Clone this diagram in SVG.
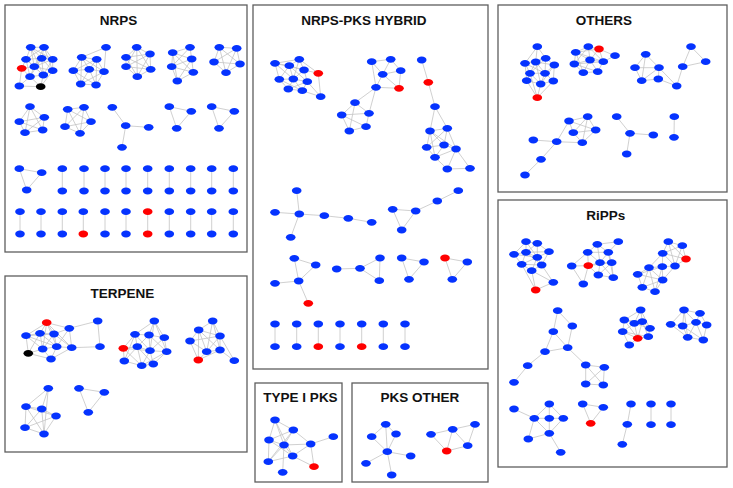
<svg xmlns="http://www.w3.org/2000/svg" xmlns:xlink="http://www.w3.org/1999/xlink" width="733" height="488" viewBox="0 0 733 488">
<defs>
<style>
.frame{fill:none;stroke:#5e5e5e;stroke-width:1.3}
.title{font-family:"Liberation Sans",Arial,sans-serif;font-weight:bold;font-size:13.5px;fill:#111;text-anchor:middle}
.edges path{fill:none;stroke:#c4c4c4;stroke-width:0.8}
</style>
<ellipse id="b" rx="4.8" ry="3.4" fill="#0533ff"/>
<ellipse id="r" rx="4.8" ry="3.4" fill="#ff0000"/>
<ellipse id="k" rx="4.8" ry="3.4" fill="#000000"/>
</defs>
<rect width="733" height="488" fill="#ffffff"/>

<g id="connectors" class="edges">
<!-- NRPS -->
<path d="M30.7,47.3L44,47.3M30.7,47.3L26,59.3M30.7,47.3L41.7,58.3M30.7,47.3L52.7,59.3M30.7,47.3L34.3,66.7M30.7,47.3L43.3,75M44,47.3L26,59.3M44,47.3L41.7,58.3M44,47.3L52.7,59.3M44,47.3L52.7,70.7M44,47.3L34.3,66.7M26,59.3L41.7,58.3M26,59.3L34.3,66.7M26,59.3L30,76.7M26,59.3L21.7,68.3M26,59.3L43.3,75M41.7,58.3L52.7,59.3M41.7,58.3L34.3,66.7M41.7,58.3L52.7,70.7M41.7,58.3L43.3,75M41.7,58.3L30,76.7M52.7,59.3L52.7,70.7M52.7,59.3L34.3,66.7M52.7,59.3L43.3,75M34.3,66.7L30,76.7M34.3,66.7L43.3,75M34.3,66.7L52.7,70.7M34.3,66.7L21.7,68.3M52.7,70.7L43.3,75M30,76.7L43.3,75M30,76.7L21.7,68.3M21.7,68.3L19.3,86M19.3,86L30,76.7M19.3,86L40.7,86.7M40.7,86.7L43.3,75M40.7,86.7L30,76.7M52.7,70.7L40.7,86.7"/>
<path d="M106,47.3L81.7,57.3M106,47.3L104,71.7M81.7,57.3L96.7,59.3M81.7,57.3L73.3,70.7M81.7,57.3L89.3,69.3M81.7,57.3L80.7,84M96.7,59.3L89.3,69.3M96.7,59.3L104,71.7M96.7,59.3L73.3,70.7M96.7,59.3L96,85M73.3,70.7L89.3,69.3M73.3,70.7L80.7,84M73.3,70.7L96,85M89.3,69.3L104,71.7M89.3,69.3L80.7,84M89.3,69.3L96,85M104,71.7L96,85M104,71.7L80.7,84M80.7,84L96,85M81.7,57.3L104,71.7"/>
<path d="M136.7,47.3L126,57.3M136.7,47.3L150,54M136.7,47.3L126,66.7M136.7,47.3L150.7,69.3M136.7,47.3L137.3,76.7M126,57.3L150,54M126,57.3L126,66.7M126,57.3L150.7,69.3M126,57.3L137.3,76.7M150,54L126,66.7M150,54L150.7,69.3M150,54L137.3,76.7M126,66.7L150.7,69.3M126,66.7L137.3,76.7M150.7,69.3L137.3,76.7"/>
<path d="M190,47.3L172.7,52.7M190,47.3L191.7,59M190,47.3L171.7,66.7M172.7,52.7L191.7,59M172.7,52.7L171.7,66.7M172.7,52.7L193.3,72.3M191.7,59L171.7,66.7M191.7,59L193.3,72.3M191.7,59L177.3,81M171.7,66.7L193.3,72.3M171.7,66.7L177.3,81M193.3,72.3L177.3,81M172.7,52.7L177.3,81"/>
<path d="M219.3,47.3L236.7,48.3M219.3,47.3L214,62M219.3,47.3L240,64M219.3,47.3L226,72.7M236.7,48.3L214,62M236.7,48.3L240,64M236.7,48.3L226,72.7M214,62L240,64M214,62L226,72.7M240,64L226,72.7"/>
<path d="M30,106.7L19.3,121.7M30,106.7L44.3,117.3M30,106.7L25,132.7M30,106.7L42.7,130M19.3,121.7L44.3,117.3M19.3,121.7L25,132.7M19.3,121.7L42.7,130M44.3,117.3L25,132.7M44.3,117.3L42.7,130M25,132.7L42.7,130"/>
<path d="M67.7,109.3L84,107.3M67.7,109.3L91,121.7M67.7,109.3L65,126.7M67.7,109.3L80,133.3M84,107.3L91,121.7M84,107.3L65,126.7M84,107.3L80,133.3M91,121.7L65,126.7M91,121.7L80,133.3M65,126.7L80,133.3"/>
<path d="M125.7,125.7L112.3,107.3M125.7,125.7L148.7,127.3M125.7,125.7L122,147.3M169.3,106.7L191.3,111.3L176.7,128.3ZM211.7,106.7L234.3,111.3L219,128.3ZM19.3,168.7L41.7,172.7L26.7,190Z"/>
<path d="M62.3,168.7V191M84,168.7V191M105,168.7V191M126,168.7V191M147.7,168.7V191M169.3,168.7V191M190.7,168.7V191M211.7,168.7V191M233.3,168.7V191M20,211.7V234M41,211.7V234M62.3,211.7V234M83.3,211.7V234M105,211.7V234M126,211.7V234M147.7,211.7V234M169.3,211.7V234M190.7,211.7V234M211.7,211.7V234M233.3,211.7V234"/>
<!-- TERPENE -->
<path d="M46.7,322.7L26,335.7M46.7,322.7L40,333.3M46.7,322.7L54,334M46.7,322.7L69.3,328.3M46.7,322.7L42.7,349M46.7,322.7L56.7,346.7M26,335.7L40,333.3M26,335.7L42.7,349M26,335.7L28.3,353.3M26,335.7L54,334M40,333.3L54,334M40,333.3L42.7,349M40,333.3L56.7,346.7M40,333.3L28.3,353.3M54,334L69.3,328.3M54,334L56.7,346.7M54,334L42.7,349M54,334L71.7,347.7M69.3,328.3L56.7,346.7M69.3,328.3L71.7,347.7M69.3,328.3L97.7,321M42.7,349L56.7,346.7M42.7,349L28.3,353.3M42.7,349L51,359M56.7,346.7L71.7,347.7M56.7,346.7L51,359M71.7,347.7L51,359M71.7,347.7L100,346.7M28.3,353.3L51,359M97.7,321L100,346.7M26,335.7L56.7,346.7M46.7,322.7L71.7,347.7"/>
<path d="M154.3,321L135,334.3M154.3,321L149,335M154.3,321L164.3,337.7M154.3,321L150,350.7M154.3,321L166.7,351.7M135,334.3L149,335M135,334.3L123.3,348.3M135,334.3L137.3,346.7M135,334.3L150,350.7M149,335L164.3,337.7M149,335L137.3,346.7M149,335L150,350.7M149,335L166.7,351.7M164.3,337.7L150,350.7M164.3,337.7L166.7,351.7M123.3,348.3L137.3,346.7M123.3,348.3L124.3,361M123.3,348.3L141.7,365.7M137.3,346.7L150,350.7M137.3,346.7L124.3,361M137.3,346.7L141.7,365.7M137.3,346.7L153.3,364M150,350.7L166.7,351.7M150,350.7L141.7,365.7M150,350.7L153.3,364M166.7,351.7L153.3,364M124.3,361L141.7,365.7M141.7,365.7L153.3,364M123.3,348.3L150,350.7M135,334.3L124.3,361M166.7,351.7L141.7,365.7"/>
<path d="M212.7,321L198.7,330M212.7,321L220,336M212.7,321L206.7,351.7M212.7,321L220,350M198.7,330L220,336M198.7,330L190,341M198.7,330L206.7,351.7M198.7,330L220,350M220,336L190,341M220,336L206.7,351.7M220,336L220,350M220,336L234.3,360.7M190,341L206.7,351.7M190,341L198.3,360M206.7,351.7L220,350M206.7,351.7L198.3,360M220,350L234.3,360.7M220,350L198.3,360M198.7,330L198.3,360"/>
<path d="M48.3,388.3L26,406.7M48.3,388.3L41.7,409M48.3,388.3L44,434M26,406.7L41.7,409M26,406.7L56,416M26,406.7L25,427.7M26,406.7L44,434M41.7,409L56,416M41.7,409L25,427.7M41.7,409L44,434M56,416L25,427.7M56,416L44,434M25,427.7L44,434M79,388.3L104.3,392.3L88.3,412.3Z"/>
<!-- NRPS-PKS HYBRID -->
<path d="M275,63.3L289.3,65.7M275,63.3L299.3,59.3M275,63.3L279.3,79.3M275,63.3L293.3,79M275,63.3L304,70M289.3,65.7L299.3,59.3M289.3,65.7L304,70M289.3,65.7L279.3,79.3M289.3,65.7L293.3,79M289.3,65.7L307.3,81.7M299.3,59.3L304,70M299.3,59.3L318.3,73.3M299.3,59.3L293.3,79M304,70L293.3,79M304,70L307.3,81.7M304,70L318.3,73.3M279.3,79.3L293.3,79M279.3,79.3L288.3,89M279.3,79.3L302.3,90.7M293.3,79L307.3,81.7M293.3,79L288.3,89M293.3,79L302.3,90.7M307.3,81.7L302.3,90.7M288.3,89L302.3,90.7M307.3,81.7L320.7,96.7M318.3,73.3L320.7,96.7M302.3,90.7L320.7,96.7M288.3,89L307.3,81.7"/>
<path d="M371.7,61.7L390.7,59.3M371.7,61.7L382.7,74.3M371.7,61.7L376,87.3M390.7,59.3L400.7,70.7M390.7,59.3L382.7,74.3M382.7,74.3L400.7,70.7M382.7,74.3L376,87.3M400.7,70.7L399,88.3M376,87.3L399,88.3M382.7,74.3L399,88.3M376,87.3L355,102.7M376,87.3L369,113.3M355,102.7L341.7,115M355,102.7L369,113.3M355,102.7L349.3,131M341.7,115L349.3,131M341.7,115L369,113.3M369,113.3L366,126.7M349.3,131L366,126.7M341.7,115L366,126.7"/>
<path d="M421.7,60L428.3,82.3M428.3,82.3L435,106.7M435,106.7L430,131M435,106.7L447.3,128.3M430,131L447.3,128.3M430,131L426.7,147.3M430,131L444,145M430,131L435,157.3M447.3,128.3L444,145M447.3,128.3L456,149M447.3,128.3L426.7,147.3M426.7,147.3L444,145M426.7,147.3L435,157.3M444,145L456,149M444,145L435,157.3M456,149L435,157.3M435,157.3L447.3,169M456,149L447.3,169M456,149L470,168.3M447.3,169L470,168.3M430,131L456,149"/>
<path d="M299.3,214L296.7,190.7M299.3,214L275,212.3M299.3,214L290.7,237.3M299.3,214L324.3,215.7M324.3,215.7L348.3,218.3M348.3,218.3L371.7,222.3"/>
<path d="M458.3,190.7L437.3,201M437.3,201L415.7,211M415.7,211L392.7,209.3M392.7,209.3L401.7,230M415.7,211L401.7,230"/>
<path d="M294.3,258.3L315.7,265M294.3,258.3L298.7,281M315.7,265L298.7,281M275,283.3L298.7,281M298.7,281L308.3,303.3M336.7,269L360,268.3M360,268.3L380,258M360,268.3L379.3,280.7M380,258L379.3,280.7M401.7,258L424,262L409,279.3ZM445,258L467.3,262L452.3,279.3Z"/>
<path d="M275,324V346.7M296.7,324V346.7M318.3,324V346.7M340,324V346.7M361.7,324V346.7M383.3,324V346.7M405,324V346.7"/>
<!-- OTHERS -->
<path d="M537.3,46.7L525,63.3M537.3,46.7L535.7,62M537.3,46.7L545.7,58.3M525,63.3L535.7,62M525,63.3L530,73.3M525,63.3L545,73.3M525,63.3L545.7,58.3M535.7,62L545.7,58.3M535.7,62L554.3,65M535.7,62L530,73.3M535.7,62L545,73.3M545.7,58.3L554.3,65M545.7,58.3L545,73.3M545.7,58.3L530,73.3M554.3,65L545,73.3M554.3,65L553.3,81M530,73.3L545,73.3M530,73.3L526.7,80.7M530,73.3L540.7,84M545,73.3L540.7,84M545,73.3L553.3,81M526.7,80.7L540.7,84M540.7,84L553.3,81M526.7,80.7L537.3,97.7M540.7,84L537.3,97.7M553.3,81L537.3,97.7M530,73.3L537.3,97.7M525,63.3L526.7,80.7M554.3,65L540.7,84M535.7,62L540.7,84"/>
<path d="M588.3,46.7L599,49M588.3,46.7L575.7,52.3M588.3,46.7L590,60M588.3,46.7L574.3,64M588.3,46.7L603.3,61.7M599,49L590,60M599,49L603.3,61.7M599,49L615,55.7M575.7,52.3L574.3,64M575.7,52.3L590,60M575.7,52.3L583.3,72.7M574.3,64L590,60M574.3,64L583.3,72.7M574.3,64L597.7,71.7M590,60L603.3,61.7M590,60L583.3,72.7M590,60L597.7,71.7M603.3,61.7L615,55.7M603.3,61.7L597.7,71.7M583.3,72.7L597.7,71.7M575.7,52.3L603.3,61.7M574.3,64L603.3,61.7M599,49L575.7,52.3"/>
<path d="M645.7,54.3L635,67.7M645.7,54.3L659,67.7M645.7,54.3L641.7,80.7M635,67.7L659,67.7M635,67.7L641.7,80.7M659,67.7L641.7,80.7M659,67.7L658.3,79M641.7,80.7L658.3,79M659,67.7L676.7,86M658.3,79L676.7,86M676.7,86L682.7,66.7M682.7,66.7L691,46.7M682.7,66.7L705.7,61.7M691,46.7L705.7,61.7"/>
<path d="M569,121L587.7,116.7M569,121L573.3,132.7M569,121L556.7,141.7M569,121L595.7,130M587.7,116.7L573.3,132.7M587.7,116.7L595.7,130M587.7,116.7L582.3,142.7M573.3,132.7L595.7,130M573.3,132.7L582.3,142.7M595.7,130L582.3,142.7M556.7,141.7L582.3,142.7M556.7,141.7L533.3,140M556.7,141.7L541,159.3M541,159.3L525,175"/>
<path d="M630,133.3L616.7,116.7M630,133.3L653.3,135M630,133.3L626.7,154M674.3,116.7L674,137.3"/>
<!-- RiPPs -->
<path d="M526,241.7L537.3,243.3M526,241.7L514,254.3M526,241.7L526,252.3M526,241.7L537.3,257.3M537.3,243.3L526,252.3M537.3,243.3L549,251.7M537.3,243.3L537.3,257.3M514,254.3L526,252.3M514,254.3L521.7,264.3M514,254.3L537.3,257.3M526,252.3L549,251.7M526,252.3L537.3,257.3M526,252.3L521.7,264.3M526,252.3L541.7,265M549,251.7L537.3,257.3M549,251.7L541.7,265M537.3,257.3L521.7,264.3M537.3,257.3L541.7,265M537.3,257.3L531.7,270.7M521.7,264.3L531.7,270.7M521.7,264.3L541.7,265M541.7,265L531.7,270.7M541.7,265L553.3,282.3M531.7,270.7L553.3,282.3M531.7,270.7L535.7,290M553.3,282.3L535.7,290M521.7,264.3L535.7,290"/>
<path d="M597.3,244.3L618.3,241.7M597.3,244.3L587.7,252.3M597.3,244.3L608.3,252.3M597.3,244.3L600,262.7M618.3,241.7L608.3,252.3M587.7,252.3L608.3,252.3M587.7,252.3L571.7,266M587.7,252.3L588.3,265.7M587.7,252.3L600,262.7M608.3,252.3L600,262.7M608.3,252.3L611.7,262.7M571.7,266L588.3,265.7M571.7,266L583.3,284M588.3,265.7L583.3,284M588.3,265.7L600,262.7M588.3,265.7L598.3,275M600,262.7L611.7,262.7M600,262.7L598.3,275M600,262.7L613.3,277.7M611.7,262.7L598.3,275M611.7,262.7L613.3,277.7M598.3,275L613.3,277.7M588.3,265.7L611.7,262.7M608.3,252.3L613.3,277.7"/>
<path d="M668.3,241.7L682.3,245.7M668.3,241.7L662.7,253.3M668.3,241.7L686,259M668.3,241.7L675,266M682.3,245.7L662.7,253.3M682.3,245.7L686,259M682.3,245.7L675,266M662.7,253.3L686,259M662.7,253.3L675,266M662.7,253.3L662.3,266.7M686,259L675,266M675,266L662.3,266.7M675,266L662.7,280M649,267.7L662.3,266.7M649,267.7L637.7,274.3M649,267.7L662.7,280M649,267.7L642.3,287.3M649,267.7L655,291.7M662.3,266.7L662.7,280M662.3,266.7L637.7,274.3M637.7,274.3L642.3,287.3M637.7,274.3L662.7,280M662.7,280L642.3,287.3M662.7,280L655,291.7M642.3,287.3L655,291.7M662.7,253.3L649,267.7M662.3,266.7L655,291.7"/>
<path d="M557.7,310.7L572.3,326M557.7,310.7L553.3,331.7M553.3,331.7L545,351.7M553.3,331.7L567.7,347.7M572.3,326L567.7,347.7M545,351.7L567.7,347.7M545,351.7L527.7,365.7M527.7,365.7L514,382.3M567.7,347.7L585.7,365M585.7,365L604.3,367.3M585.7,365L585.7,384M585.7,365L603.3,385M604.3,367.3L585.7,384M604.3,367.3L603.3,385M585.7,384L603.3,385"/>
<path d="M640.7,310L624.3,320M640.7,310L634.3,323.3M640.7,310L642.3,321.7M640.7,310L650,328.3M624.3,320L634.3,323.3M624.3,320L642.3,321.7M624.3,320L622.7,331.7M634.3,323.3L642.3,321.7M634.3,323.3L622.7,331.7M634.3,323.3L637.7,338.3M634.3,323.3L650,328.3M642.3,321.7L650,328.3M642.3,321.7L637.7,338.3M642.3,321.7L648.3,336.7M650,328.3L648.3,336.7M622.7,331.7L637.7,338.3M622.7,331.7L629.3,345M637.7,338.3L648.3,336.7M637.7,338.3L629.3,345M624.3,320L637.7,338.3M622.7,331.7L648.3,336.7"/>
<path d="M684,310L700,313.3M684,310L670.7,324.3M684,310L682.7,326M684,310L696,322.3M700,313.3L696,322.3M700,313.3L706.7,325M670.7,324.3L682.7,326M670.7,324.3L687.7,337.3M682.7,326L696,322.3M682.7,326L687.7,337.3M682.7,326L703.3,340M696,322.3L706.7,325M696,322.3L687.7,337.3M696,322.3L703.3,340M706.7,325L703.3,340M687.7,337.3L703.3,340M684,310L687.7,337.3"/>
<path d="M514,409L534.3,418.3M534.3,418.3L549.3,404M534.3,418.3L549.3,418.3M534.3,418.3L528.3,439M534.3,418.3L549.3,433.3M549.3,404L549.3,418.3M549.3,404L563.3,418.3M549.3,418.3L563.3,418.3M549.3,418.3L549.3,433.3M563.3,418.3L549.3,433.3M528.3,439L549.3,433.3M549.3,433.3L560.7,452.3M582.7,404L603.3,407.3L590.7,423.3ZM631,404L627.3,424.3L622.3,444.3M651,404V424.7M671,404V424.7"/>
<!-- TYPE I PKS -->
<path d="M275,420L293.3,430M275,420L269,440M275,420L284,445M275,420L292.7,456M293.3,430L269,440M293.3,430L284,445M293.3,430L310.7,444M293.3,430L268.3,461.7M269,440L284,445M269,440L292.7,456M269,440L268.3,461.7M284,445L310.7,444M284,445L292.7,456M284,445L282.7,472.3M284,445L268.3,461.7M310.7,444L333.3,436.7M310.7,444L292.7,456M310.7,444L314,466.7M292.7,456L268.3,461.7M292.7,456L314,466.7"/>
<!-- PKS OTHER -->
<path d="M385.7,424.3L371.7,436.7M385.7,424.3L396,434M385.7,424.3L387.3,451.7M371.7,436.7L387.3,451.7M396,434L387.3,451.7M387.3,451.7L366,463.3M387.3,451.7L410.7,456M387.3,451.7L391.7,475M431,434.3L452.7,429.3M431,434.3L446.7,451M452.7,429.3L475,424.3M452.7,429.3L467.7,445.7M452.7,429.3L446.7,451M475,424.3L467.7,445.7M467.7,445.7L446.7,451"/>
</g>

<g id="nrps">
<rect class="frame" x="5" y="5" width="242" height="247"/>
<text class="title" x="118.5" y="25">NRPS</text>
<use href="#b" x="30.7" y="47.3"/><use href="#b" x="44" y="47.3"/><use href="#b" x="26" y="59.3"/><use href="#b" x="41.7" y="58.3"/><use href="#b" x="52.7" y="59.3"/><use href="#b" x="34.3" y="66.7"/><use href="#b" x="52.7" y="70.7"/><use href="#r" x="21.7" y="68.3"/><use href="#b" x="30" y="76.7"/><use href="#b" x="43.3" y="75"/><use href="#b" x="19.3" y="86"/><use href="#k" x="40.7" y="86.7"/>
<use href="#b" x="106" y="47.3"/><use href="#b" x="81.7" y="57.3"/><use href="#b" x="96.7" y="59.3"/><use href="#b" x="73.3" y="70.7"/><use href="#b" x="89.3" y="69.3"/><use href="#b" x="104" y="71.7"/><use href="#b" x="80.7" y="84"/><use href="#b" x="96" y="85"/>
<use href="#b" x="136.7" y="47.3"/><use href="#b" x="126" y="57.3"/><use href="#b" x="150" y="54"/><use href="#b" x="126" y="66.7"/><use href="#b" x="150.7" y="69.3"/><use href="#b" x="137.3" y="76.7"/>
<use href="#b" x="190" y="47.3"/><use href="#b" x="172.7" y="52.7"/><use href="#b" x="191.7" y="59"/><use href="#b" x="171.7" y="66.7"/><use href="#b" x="193.3" y="72.3"/><use href="#b" x="177.3" y="81"/>
<use href="#b" x="219.3" y="47.3"/><use href="#b" x="236.7" y="48.3"/><use href="#b" x="214" y="62"/><use href="#b" x="240" y="64"/><use href="#b" x="226" y="72.7"/>
<use href="#b" x="30" y="106.7"/><use href="#b" x="19.3" y="121.7"/><use href="#b" x="44.3" y="117.3"/><use href="#b" x="25" y="132.7"/><use href="#b" x="42.7" y="130"/>
<use href="#b" x="67.7" y="109.3"/><use href="#b" x="84" y="107.3"/><use href="#b" x="91" y="121.7"/><use href="#b" x="65" y="126.7"/><use href="#b" x="80" y="133.3"/>
<use href="#b" x="112.3" y="107.3"/><use href="#b" x="125.7" y="125.7"/><use href="#b" x="148.7" y="127.3"/><use href="#b" x="122" y="147.3"/>
<use href="#b" x="169.3" y="106.7"/><use href="#b" x="191.3" y="111.3"/><use href="#b" x="176.7" y="128.3"/>
<use href="#b" x="211.7" y="106.7"/><use href="#b" x="234.3" y="111.3"/><use href="#b" x="219" y="128.3"/>
<use href="#b" x="19.3" y="168.7"/><use href="#b" x="41.7" y="172.7"/><use href="#b" x="26.7" y="190"/>
<use href="#b" x="62.3" y="168.7"/><use href="#b" x="84" y="168.7"/><use href="#b" x="105" y="168.7"/><use href="#b" x="126" y="168.7"/><use href="#b" x="147.7" y="168.7"/><use href="#b" x="169.3" y="168.7"/><use href="#b" x="190.7" y="168.7"/><use href="#b" x="211.7" y="168.7"/><use href="#b" x="233.3" y="168.7"/>
<use href="#b" x="62.3" y="191"/><use href="#b" x="84" y="191"/><use href="#b" x="105" y="191"/><use href="#b" x="126" y="191"/><use href="#b" x="147.7" y="191"/><use href="#b" x="169.3" y="191"/><use href="#b" x="190.7" y="191"/><use href="#b" x="211.7" y="191"/><use href="#b" x="233.3" y="191"/>
<use href="#b" x="20" y="211.7"/><use href="#b" x="41" y="211.7"/><use href="#b" x="62.3" y="211.7"/><use href="#b" x="83.3" y="211.7"/><use href="#b" x="105" y="211.7"/><use href="#b" x="126" y="211.7"/><use href="#r" x="147.7" y="211.7"/><use href="#b" x="169.3" y="211.7"/><use href="#b" x="190.7" y="211.7"/><use href="#b" x="211.7" y="211.7"/><use href="#b" x="233.3" y="211.7"/>
<use href="#b" x="20" y="234"/><use href="#b" x="41" y="234"/><use href="#b" x="62.3" y="234"/><use href="#r" x="83.3" y="234"/><use href="#b" x="105" y="234"/><use href="#b" x="126" y="234"/><use href="#r" x="147.7" y="234"/><use href="#b" x="169.3" y="234"/><use href="#b" x="190.7" y="234"/><use href="#b" x="211.7" y="234"/><use href="#b" x="233.3" y="234"/>
</g>

<g id="terpene">
<rect class="frame" x="5" y="276" width="242" height="176"/>
<text class="title" x="122.5" y="297.7">TERPENE</text>
<use href="#r" x="46.7" y="322.7"/><use href="#b" x="26" y="335.7"/><use href="#b" x="40" y="333.3"/><use href="#b" x="54" y="334"/><use href="#b" x="69.3" y="328.3"/><use href="#b" x="42.7" y="349"/><use href="#b" x="56.7" y="346.7"/><use href="#b" x="71.7" y="347.7"/><use href="#k" x="28.3" y="353.3"/><use href="#b" x="51" y="359"/><use href="#b" x="97.7" y="321"/><use href="#b" x="100" y="346.7"/>
<use href="#b" x="154.3" y="321"/><use href="#b" x="135" y="334.3"/><use href="#b" x="149" y="335"/><use href="#b" x="164.3" y="337.7"/><use href="#r" x="123.3" y="348.3"/><use href="#b" x="137.3" y="346.7"/><use href="#b" x="150" y="350.7"/><use href="#b" x="166.7" y="351.7"/><use href="#b" x="124.3" y="361"/><use href="#b" x="141.7" y="365.7"/><use href="#b" x="153.3" y="364"/>
<use href="#b" x="212.7" y="321"/><use href="#b" x="198.7" y="330"/><use href="#b" x="220" y="336"/><use href="#b" x="190" y="341"/><use href="#b" x="206.7" y="351.7"/><use href="#b" x="220" y="350"/><use href="#r" x="198.3" y="360"/><use href="#b" x="234.3" y="360.7"/>
<use href="#b" x="48.3" y="388.3"/><use href="#b" x="26" y="406.7"/><use href="#b" x="41.7" y="409"/><use href="#b" x="56" y="416"/><use href="#b" x="25" y="427.7"/><use href="#b" x="44" y="434"/>
<use href="#b" x="79" y="388.3"/><use href="#b" x="104.3" y="392.3"/><use href="#b" x="88.3" y="412.3"/>
</g>

<g id="nrps-pks-hybrid">
<rect class="frame" x="253" y="5" width="235" height="364"/>
<text class="title" x="364" y="25">NRPS-PKS HYBRID</text>
<use href="#b" x="275" y="63.3"/><use href="#b" x="289.3" y="65.7"/><use href="#b" x="299.3" y="59.3"/><use href="#b" x="304" y="70"/><use href="#b" x="279.3" y="79.3"/><use href="#b" x="293.3" y="79"/><use href="#b" x="307.3" y="81.7"/><use href="#b" x="288.3" y="89"/><use href="#b" x="302.3" y="90.7"/><use href="#r" x="318.3" y="73.3"/><use href="#b" x="320.7" y="96.7"/>
<use href="#b" x="371.7" y="61.7"/><use href="#b" x="390.7" y="59.3"/><use href="#b" x="382.7" y="74.3"/><use href="#b" x="400.7" y="70.7"/><use href="#b" x="376" y="87.3"/><use href="#r" x="399" y="88.3"/><use href="#b" x="355" y="102.7"/><use href="#b" x="341.7" y="115"/><use href="#b" x="369" y="113.3"/><use href="#b" x="349.3" y="131"/><use href="#b" x="366" y="126.7"/>
<use href="#b" x="421.7" y="60"/><use href="#r" x="428.3" y="82.3"/><use href="#b" x="435" y="106.7"/><use href="#b" x="430" y="131"/><use href="#b" x="447.3" y="128.3"/><use href="#b" x="426.7" y="147.3"/><use href="#b" x="444" y="145"/><use href="#b" x="456" y="149"/><use href="#b" x="435" y="157.3"/><use href="#b" x="447.3" y="169"/><use href="#b" x="470" y="168.3"/>
<use href="#b" x="296.7" y="190.7"/><use href="#b" x="275" y="212.3"/><use href="#b" x="299.3" y="214"/><use href="#b" x="324.3" y="215.7"/><use href="#b" x="348.3" y="218.3"/><use href="#b" x="371.7" y="222.3"/><use href="#b" x="290.7" y="237.3"/>
<use href="#b" x="458.3" y="190.7"/><use href="#b" x="437.3" y="201"/><use href="#b" x="415.7" y="211"/><use href="#b" x="392.7" y="209.3"/><use href="#b" x="401.7" y="230"/>
<use href="#b" x="294.3" y="258.3"/><use href="#b" x="315.7" y="265"/><use href="#b" x="275" y="283.3"/><use href="#b" x="298.7" y="281"/><use href="#r" x="308.3" y="303.3"/>
<use href="#b" x="336.7" y="269"/><use href="#b" x="360" y="268.3"/><use href="#b" x="380" y="258"/><use href="#b" x="379.3" y="280.7"/>
<use href="#b" x="401.7" y="258"/><use href="#b" x="424" y="262"/><use href="#b" x="409" y="279.3"/>
<use href="#r" x="445" y="258"/><use href="#b" x="467.3" y="262"/><use href="#b" x="452.3" y="279.3"/>
<use href="#b" x="275" y="324"/><use href="#b" x="296.7" y="324"/><use href="#b" x="318.3" y="324"/><use href="#b" x="340" y="324"/><use href="#b" x="361.7" y="324"/><use href="#b" x="383.3" y="324"/><use href="#b" x="405" y="324"/>
<use href="#b" x="275" y="346.7"/><use href="#b" x="296.7" y="346.7"/><use href="#r" x="318.3" y="346.7"/><use href="#b" x="340" y="346.7"/><use href="#r" x="361.7" y="346.7"/><use href="#b" x="383.3" y="346.7"/><use href="#b" x="405" y="346.7"/>
</g>

<g id="others">
<rect class="frame" x="498" y="5" width="229" height="187"/>
<text class="title" x="604" y="25">OTHERS</text>
<use href="#b" x="537.3" y="46.7"/><use href="#b" x="525" y="63.3"/><use href="#b" x="535.7" y="62"/><use href="#b" x="545.7" y="58.3"/><use href="#b" x="554.3" y="65"/><use href="#b" x="530" y="73.3"/><use href="#b" x="545" y="73.3"/><use href="#b" x="526.7" y="80.7"/><use href="#b" x="540.7" y="84"/><use href="#b" x="553.3" y="81"/><use href="#r" x="537.3" y="97.7"/>
<use href="#b" x="588.3" y="46.7"/><use href="#r" x="599" y="49"/><use href="#b" x="575.7" y="52.3"/><use href="#b" x="574.3" y="64"/><use href="#b" x="590" y="60"/><use href="#b" x="603.3" y="61.7"/><use href="#b" x="615" y="55.7"/><use href="#b" x="583.3" y="72.7"/><use href="#b" x="597.7" y="71.7"/>
<use href="#b" x="645.7" y="54.3"/><use href="#b" x="635" y="67.7"/><use href="#b" x="659" y="67.7"/><use href="#b" x="641.7" y="80.7"/><use href="#b" x="658.3" y="79"/><use href="#b" x="676.7" y="86"/><use href="#b" x="682.7" y="66.7"/><use href="#b" x="691" y="46.7"/><use href="#b" x="705.7" y="61.7"/>
<use href="#b" x="569" y="121"/><use href="#b" x="587.7" y="116.7"/><use href="#b" x="573.3" y="132.7"/><use href="#b" x="595.7" y="130"/><use href="#b" x="582.3" y="142.7"/><use href="#b" x="556.7" y="141.7"/><use href="#b" x="533.3" y="140"/><use href="#b" x="541" y="159.3"/><use href="#b" x="525" y="175"/>
<use href="#b" x="616.7" y="116.7"/><use href="#b" x="630" y="133.3"/><use href="#b" x="653.3" y="135"/><use href="#b" x="626.7" y="154"/>
<use href="#b" x="674.3" y="116.7"/><use href="#b" x="674" y="137.3"/>
</g>

<g id="ripps">
<rect class="frame" x="498" y="200" width="229" height="267"/>
<text class="title" x="605.7" y="220">RiPPs</text>
<use href="#b" x="526" y="241.7"/><use href="#b" x="537.3" y="243.3"/><use href="#b" x="514" y="254.3"/><use href="#b" x="526" y="252.3"/><use href="#b" x="549" y="251.7"/><use href="#b" x="537.3" y="257.3"/><use href="#b" x="521.7" y="264.3"/><use href="#b" x="541.7" y="265"/><use href="#b" x="531.7" y="270.7"/><use href="#b" x="553.3" y="282.3"/><use href="#r" x="535.7" y="290"/>
<use href="#b" x="597.3" y="244.3"/><use href="#b" x="618.3" y="241.7"/><use href="#b" x="587.7" y="252.3"/><use href="#b" x="608.3" y="252.3"/><use href="#b" x="571.7" y="266"/><use href="#r" x="588.3" y="265.7"/><use href="#b" x="600" y="262.7"/><use href="#b" x="611.7" y="262.7"/><use href="#b" x="598.3" y="275"/><use href="#b" x="613.3" y="277.7"/><use href="#b" x="583.3" y="284"/>
<use href="#b" x="668.3" y="241.7"/><use href="#b" x="682.3" y="245.7"/><use href="#b" x="662.7" y="253.3"/><use href="#r" x="686" y="259"/><use href="#b" x="675" y="266"/><use href="#b" x="649" y="267.7"/><use href="#b" x="662.3" y="266.7"/><use href="#b" x="637.7" y="274.3"/><use href="#b" x="662.7" y="280"/><use href="#b" x="642.3" y="287.3"/><use href="#b" x="655" y="291.7"/>
<use href="#b" x="557.7" y="310.7"/><use href="#b" x="572.3" y="326"/><use href="#b" x="553.3" y="331.7"/><use href="#b" x="567.7" y="347.7"/><use href="#b" x="545" y="351.7"/><use href="#b" x="527.7" y="365.7"/><use href="#b" x="514" y="382.3"/><use href="#b" x="585.7" y="365"/><use href="#b" x="604.3" y="367.3"/><use href="#b" x="585.7" y="384"/><use href="#b" x="603.3" y="385"/>
<use href="#b" x="640.7" y="310"/><use href="#b" x="624.3" y="320"/><use href="#b" x="634.3" y="323.3"/><use href="#b" x="642.3" y="321.7"/><use href="#b" x="650" y="328.3"/><use href="#b" x="622.7" y="331.7"/><use href="#r" x="637.7" y="338.3"/><use href="#b" x="648.3" y="336.7"/><use href="#b" x="629.3" y="345"/>
<use href="#b" x="684" y="310"/><use href="#b" x="700" y="313.3"/><use href="#b" x="670.7" y="324.3"/><use href="#b" x="682.7" y="326"/><use href="#b" x="696" y="322.3"/><use href="#b" x="706.7" y="325"/><use href="#b" x="687.7" y="337.3"/><use href="#b" x="703.3" y="340"/>
<use href="#b" x="514" y="409"/><use href="#b" x="534.3" y="418.3"/><use href="#b" x="549.3" y="404"/><use href="#b" x="549.3" y="418.3"/><use href="#b" x="563.3" y="418.3"/><use href="#b" x="528.3" y="439"/><use href="#b" x="549.3" y="433.3"/><use href="#b" x="560.7" y="452.3"/>
<use href="#b" x="582.7" y="404"/><use href="#b" x="603.3" y="407.3"/><use href="#r" x="590.7" y="423.3"/>
<use href="#b" x="631" y="404"/><use href="#b" x="627.3" y="424.3"/><use href="#b" x="622.3" y="444.3"/>
<use href="#b" x="651" y="404"/><use href="#b" x="651" y="424.7"/><use href="#b" x="671" y="404"/><use href="#b" x="671" y="424.7"/>
</g>

<g id="type-i-pks">
<rect class="frame" x="255" y="383" width="87" height="99"/>
<text class="title" x="300.5" y="401.7">TYPE I PKS</text>
<use href="#b" x="275" y="420"/><use href="#b" x="293.3" y="430"/><use href="#b" x="269" y="440"/><use href="#b" x="284" y="445"/><use href="#b" x="310.7" y="444"/><use href="#b" x="333.3" y="436.7"/><use href="#b" x="292.7" y="456"/><use href="#b" x="268.3" y="461.7"/><use href="#r" x="314" y="466.7"/><use href="#b" x="282.7" y="472.3"/>
</g>

<g id="pks-other">
<rect class="frame" x="352" y="383" width="136" height="99"/>
<text class="title" x="420" y="401.7">PKS OTHER</text>
<use href="#b" x="385.7" y="424.3"/><use href="#b" x="371.7" y="436.7"/><use href="#b" x="396" y="434"/><use href="#b" x="387.3" y="451.7"/><use href="#b" x="366" y="463.3"/><use href="#b" x="410.7" y="456"/><use href="#b" x="391.7" y="475"/>
<use href="#b" x="431" y="434.3"/><use href="#b" x="452.7" y="429.3"/><use href="#b" x="475" y="424.3"/><use href="#b" x="467.7" y="445.7"/><use href="#r" x="446.7" y="451"/>
</g>
</svg>
